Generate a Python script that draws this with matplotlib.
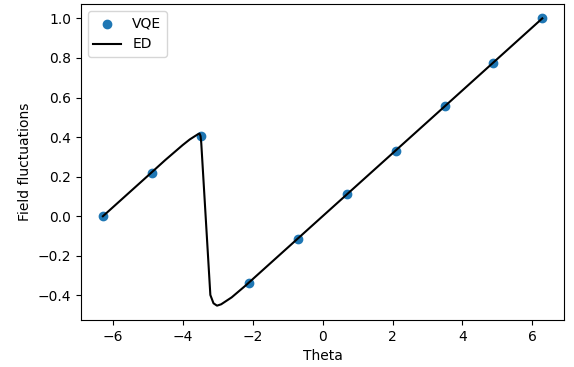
import numpy as np
import matplotlib
matplotlib.use("Agg")
import matplotlib.pyplot as plt

# VQE data points
vqe_theta = [-6.283, -4.887, -3.491, -2.094, -0.698, 0.698, 2.094, 3.491, 4.887, 6.283]
vqe_field = [0.0, 0.22, 0.405, -0.335, -0.115, 0.11, 0.33, 0.555, 0.775, 1.0]

# ED curve
ed_theta = [-6.283, -5.0, -4.5, -4.0, -3.8, -3.65, -3.56, -3.52, -3.49, -3.47,
            -3.21, -3.12, -3.02, -2.9, -2.6, -2.2, 0.0, 3.0, 6.283]
ed_field = [0.0, 0.204, 0.284, 0.360, 0.388, 0.405, 0.415, 0.418, 0.405, 0.37,
            -0.398, -0.44, -0.452, -0.445, -0.41, -0.35, 0.0, 0.477, 1.0]

fig = plt.figure(figsize=(5.74, 3.67), dpi=100)
ax = fig.add_axes([0.141, 0.128, 0.842, 0.861])
ax.scatter(vqe_theta, vqe_field, label="VQE")
ax.plot(ed_theta, ed_field, color="black", label="ED")
ax.set_xlabel("Theta")
ax.set_ylabel("Field fluctuations")
ax.legend(loc="upper left")
fig.savefig("out.png", dpi=100)
